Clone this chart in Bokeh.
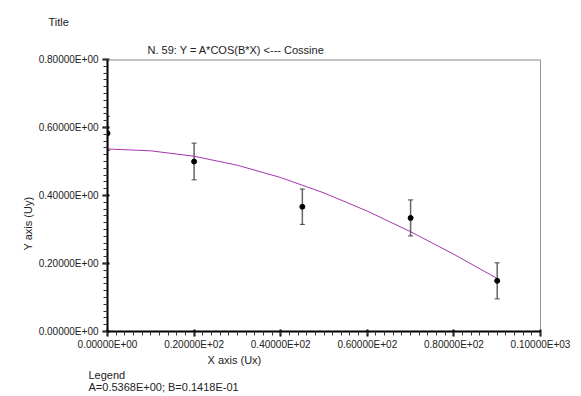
from bokeh.plotting import figure
from bokeh.models import (Range1d, FixedTicker, ColumnDataSource, Whisker, Title, Span)
from bokeh.embed import file_html
from bokeh.resources import INLINE

# data
x_pts = [0.0, 20.0, 45.0, 70.0, 90.0]
y_pts = [0.583, 0.500, 0.367, 0.334, 0.149]
y_err = [0.050, 0.054, 0.052, 0.053, 0.053]

fit_x = [0, 10, 20, 30, 40, 50, 60, 70, 80, 90]
fit_y = [0.5368, 0.5314, 0.5154, 0.4890, 0.4528, 0.4075, 0.3540, 0.2935, 0.2270, 0.1559]

x_ticks = [0, 20, 40, 60, 80, 100]
x_tick_labels = ["0.00000E+00", "0.20000E+02", "0.40000E+02", "0.60000E+02", "0.80000E+02", "0.10000E+03"]
y_ticks = [0.0, 0.2, 0.4, 0.6, 0.8]
y_tick_labels = ["0.00000E+00", "0.20000E+00", "0.40000E+00", "0.60000E+00", "0.80000E+00"]

FONT = "Liberation Sans"
TXT = "#222222"

p = figure(width=570, height=396, output_backend="svg", toolbar_location=None,
           x_range=Range1d(0, 100), y_range=Range1d(0, 0.8),
           min_border_left=107, min_border_right=30, min_border_top=59, min_border_bottom=65)
p.title.visible = False
p.outline_line_color = None
p.background_fill_color = "white"
p.border_fill_color = "white"
p.xgrid.visible = False
p.ygrid.visible = False

minor_x = [i * 2 for i in range(51)]
minor_y = [i * 0.02 for i in range(41)]
p.xaxis.ticker = FixedTicker(ticks=x_ticks, minor_ticks=minor_x)
p.yaxis.ticker = FixedTicker(ticks=y_ticks, minor_ticks=minor_y)
p.xaxis.major_label_overrides = {t: l for t, l in zip(x_ticks, x_tick_labels)}
p.yaxis.major_label_overrides = {t: l for t, l in zip(y_ticks, y_tick_labels)}
for ax in (p.xaxis, p.yaxis):
    ax.axis_line_width = 2
    ax.axis_line_color = "black"
    ax.major_tick_line_color = "black"
    ax.major_tick_line_width = 2
    ax.major_tick_out = 5
    ax.major_tick_in = 2
    ax.minor_tick_line_color = "#333333"
    ax.minor_tick_out = 4
    ax.minor_tick_in = 0
    ax.major_label_text_font = FONT
    ax.major_label_text_font_size = "10px"
    ax.major_label_text_color = TXT
p.xaxis.major_label_standoff = 2
p.yaxis.major_label_standoff = 4

# top and right frame lines
p.add_layout(Span(location=0.8, dimension="width", line_color="#888888", line_width=2))
p.add_layout(Span(location=100, dimension="height", line_color="#333333", line_width=1))

# fit curve
p.line(fit_x, fit_y, line_color="#a832b0", line_width=1)

# error bars
lower = [y - e for y, e in zip(y_pts, y_err)]
upper = [y + e for y, e in zip(y_pts, y_err)]
src = ColumnDataSource(dict(x=x_pts, y=y_pts, lower=lower, upper=upper))
w = Whisker(source=src, base="x", lower="lower", upper="upper",
            line_color="#666666", line_width=1.5)
w.upper_head.size = 5
w.lower_head.size = 5
w.upper_head.line_color = "#444444"
w.lower_head.line_color = "#444444"
p.add_layout(w)
p.scatter("x", "y", source=src, size=5, color="black")

def ttl(text, place, offset, standoff, lh=1.0, align="left", va="bottom"):
    t = Title(text=text, align=align, offset=offset, standoff=standoff,
              text_font=FONT, text_font_size="11px", text_font_style="normal",
              text_color=TXT, text_line_height=lh, vertical_align=va)
    p.add_layout(t, place)

ttl("N. 59:  Y = A*COS(B*X) <--- Cossine", "above", 40, 8)
ttl("Title", "above", -59, 20, lh=0.6)
ttl("X axis (Ux)", "below", 100, -2)
ttl("Legend\nA=0.5368E+00;  B=0.1418E-01", "below", -19, 4, lh=1.0)
ttl("Y axis (Uy)", "left", 81, 3)

open("out.html", "w").write(file_html(p, INLINE))
